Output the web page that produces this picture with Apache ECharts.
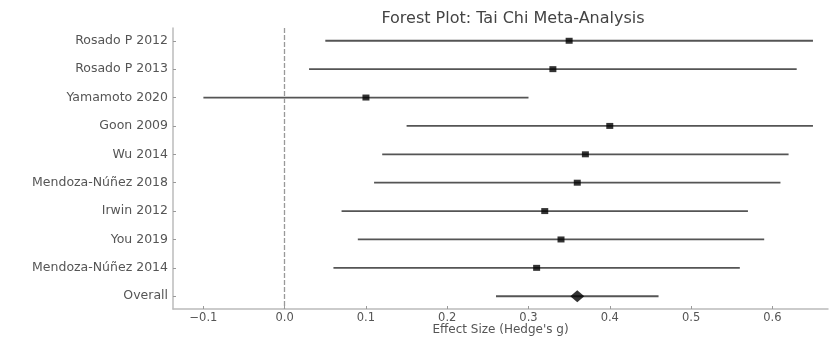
<!DOCTYPE html>
<html>
<head>
<meta charset="utf-8">
<script src="https://cdn.jsdelivr.net/npm/echarts@6/dist/echarts.min.js"></script>
<style>
  html, body { margin: 0; padding: 0; background: #fff; }
  #chart { width: 829px; height: 337px; }
</style>
</head>
<body>
<div id="chart"></div>
<script>
// studies, top to bottom
var studies = [
  "Rosado P 2012", "Rosado P 2013", "Yamamoto 2020", "Goon 2009", "Wu 2014",
  "Mendoza-Núñez 2018", "Irwin 2012", "You 2019", "Mendoza-Núñez 2014", "Overall"
];
var effect = [0.35, 0.33, 0.10, 0.40, 0.37, 0.36, 0.32, 0.34, 0.31, 0.36];
var ciLow  = [0.05, 0.03, -0.10, 0.15, 0.12, 0.11, 0.07, 0.09, 0.06, 0.26];
var ciHigh = [0.65, 0.63, 0.30, 0.65, 0.62, 0.61, 0.57, 0.59, 0.56, 0.46];
var xTicks = [-0.1, 0.0, 0.1, 0.2, 0.3, 0.4, 0.5, 0.6];

var rowIdx = studies.map(function (s, i) { return i; });
var overallIdx = studies.length - 1;

var ciData = rowIdx.map(function (i) { return [ciLow[i], ciHigh[i], i]; });
var pointData = rowIdx.filter(function (i) { return i !== overallIdx; })
  .map(function (i) { return [effect[i], i]; });
var overallData = [[effect[overallIdx], overallIdx]];

var chart = echarts.init(document.getElementById("chart"));
var font = "DejaVu Sans";

var option = {
  animation: false,
  textStyle: { fontFamily: font },
  title: {
    text: "Forest Plot: Tai Chi Meta-Analysis",
    left: 508,
    textAlign: "center",
    top: 6,
    textStyle: { fontFamily: font, fontSize: 16, fontWeight: "normal", color: "#444" }
  },
  grid: { left: 173, right: 1, top: 28, bottom: 28, containLabel: false, outerBoundsMode: "none" },
  xAxis: {
    type: "value",
    min: -0.1374,
    max: 0.6685,
    name: "Effect Size (Hedge's g)",
    nameLocation: "middle",
    nameGap: 15,
    nameMoveOverlap: false,
    nameTextStyle: { fontFamily: font, fontSize: 12, color: "#555" },
    splitLine: { show: false },
    axisLine: { show: true, onZero: false, lineStyle: { color: "#bbb", width: 1.5 } },
    axisTick: { show: true, inside: true, length: 3, customValues: xTicks, lineStyle: { color: "#999" } },
    axisLabel: {
      customValues: xTicks,
      margin: 3,
      fontSize: 11.5,
      color: "#555",
      formatter: function (v) { return v < 0 ? "\u2212" + Math.abs(v).toFixed(1) : v.toFixed(1); }
    }
  },
  yAxis: {
    type: "value",
    inverse: true,
    min: -0.45,
    max: 9.45,
    splitLine: { show: false },
    axisLine: { show: true, onZero: false, lineStyle: { color: "#bbb", width: 1.5 } },
    axisTick: { show: true, inside: true, length: 3, customValues: rowIdx, lineStyle: { color: "#999" } },
    axisLabel: {
      customValues: rowIdx,
      margin: 5,
      fontSize: 12.5,
      color: "#555",
      formatter: function (v) { return studies[Math.round(v)]; }
    }
  },
  series: [
    {
      type: "custom",
      data: ciData,
      encode: { x: [0, 1], y: 2 },
      renderItem: function (params, api) {
        var a = api.coord([api.value(0), api.value(2)]);
        var b = api.coord([api.value(1), api.value(2)]);
        return {
          type: "line",
          shape: { x1: a[0], y1: a[1], x2: b[0], y2: b[1] },
          style: { stroke: "#555", lineWidth: 1.8 }
        };
      },
      markLine: {
        silent: true,
        symbol: "none",
        label: { show: false },
        lineStyle: { color: "#999", type: [5, 2], width: 1.3 },
        data: [{ xAxis: 0 }]
      }
    },
    {
      type: "scatter",
      data: pointData,
      symbol: "rect",
      symbolSize: [7, 6],
      itemStyle: { color: "#000" },
      z: 3
    },
    {
      type: "scatter",
      data: overallData,
      symbol: "diamond",
      symbolSize: [14, 12],
      itemStyle: { color: "#000" },
      z: 3
    }
  ]
};

chart.setOption(option);
window.addEventListener("resize", function () { chart.resize(); });
</script>
</body>
</html>
